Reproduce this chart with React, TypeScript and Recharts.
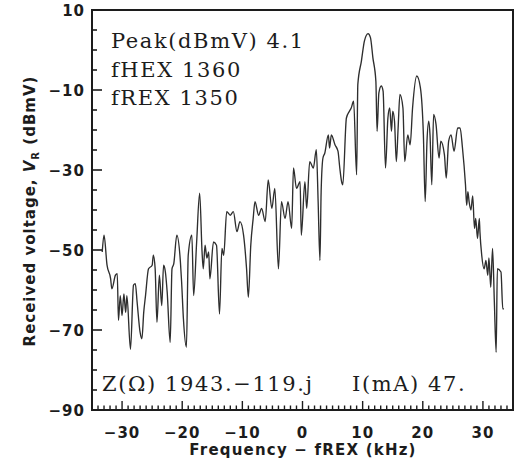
import React from "react";
import { LineChart, Line, XAxis, YAxis, ReferenceArea } from "recharts";

// frequency offset from fREX (kHz)
const freqKHz = [
  -33.3, -33.0, -32.5, -31.9, -31.7, -31.1, -30.8, -30.6, -30.3, -30.0,
  -29.7, -29.4, -29.2, -28.6, -28.1, -27.8, -27.5, -27.0, -26.7, -26.4,
  -26.1, -25.6, -25.0, -24.8, -24.5, -24.2, -23.8, -23.4, -23.1, -22.8,
  -22.5, -22.0, -21.7, -21.4, -20.9, -20.3, -20.1, -19.8, -19.3, -19.0,
  -18.4, -18.1, -17.6, -17.1, -16.7, -16.5, -16.2, -15.9, -15.6, -15.4,
  -14.8, -14.3, -13.8, -13.4, -13.1, -12.6, -12.0, -11.5, -10.9, -10.4,
  -9.8, -9.3, -9.0, -8.6, -8.2, -7.9, -7.3, -6.8, -6.2, -5.7,
  -5.1, -4.6, -4.0, -3.5, -2.9, -2.4, -1.8, -1.5, -1.0, -0.4,
  -0.2, 0.4, 0.7, 1.2, 1.8, 2.3, 2.6, 2.9, 3.1, 3.4,
  3.7, 4.3, 4.5, 4.8, 5.4, 5.9, 6.2, 6.5, 6.7, 7.3,
  7.8, 8.1, 8.5, 9.0, 9.2, 9.8, 10.3, 10.9, 11.3, 11.7,
  12.2, 12.4, 12.7, 13.1, 13.4, 13.8, 14.2, 14.5, 14.8, 15.0,
  15.3, 15.6, 15.9, 16.2, 16.7, 17.0, 17.5, 17.9, 18.3, 19.0,
  19.6, 20.1, 20.4, 20.7, 21.0, 21.2, 21.5, 21.8, 22.2, 22.7,
  23.0, 23.6, 23.9, 24.3, 24.7, 25.2, 25.8, 26.2, 26.6, 27.1,
  27.3, 27.5, 27.7, 28.0, 28.3, 28.6, 28.8, 29.1, 29.4, 29.5,
  29.8, 30.2, 30.5, 30.8, 31.0, 31.3, 31.6, 31.9, 32.2, 32.4,
  33.0, 33.3, 33.5,
];

// received voltage V_R (dBmV)
const levelDbmV = [
  -50.5, -46.3, -53.8, -57.2, -59.7, -56.3, -55.9, -67.6, -61.4, -66.4,
  -61.0, -65.6, -61.4, -74.8, -58.8, -58.4, -63.0, -70.6, -72.2, -65.6,
  -61.4, -54.7, -53.8, -51.3, -54.7, -68.1, -56.3, -63.9, -53.8, -55.5,
  -60.5, -73.1, -54.7, -53.4, -46.3, -53.0, -58.0, -67.2, -74.3, -51.3,
  -46.3, -61.4, -48.0, -35.8, -50.5, -54.7, -48.8, -52.0, -50.5, -57.2,
  -48.0, -48.8, -66.0, -49.6, -51.3, -40.4, -41.3, -40.4, -45.4, -42.9,
  -46.3, -54.7, -61.8, -48.8, -42.1, -37.9, -41.3, -39.6, -42.9, -32.5,
  -39.6, -34.6, -54.7, -37.9, -42.1, -37.9, -44.6, -29.5, -34.6, -32.9,
  -46.3, -32.9, -39.6, -27.9, -29.5, -24.9, -37.9, -52.6, -35.4, -27.0,
  -25.8, -21.2, -24.5, -21.2, -23.7, -25.3, -29.5, -32.9, -33.7, -17.0,
  -15.3, -14.5, -12.8, -31.2, -8.6, -2.7, 2.3, 4.1, 3.1, -1.9,
  -7.8, -20.3, -10.7, -9.0, -10.3, -29.5, -17.0, -14.5, -20.3, -15.3,
  -17.8, -27.9, -19.5, -11.1, -14.5, -27.9, -21.2, -23.7, -14.5, -6.5,
  -9.4, -21.2, -37.9, -22.8, -17.8, -21.2, -33.7, -16.1, -18.6, -27.0,
  -22.8, -26.2, -32.0, -22.8, -21.2, -25.3, -19.5, -19.5, -24.5, -33.7,
  -38.8, -35.4, -37.9, -40.0, -36.5, -44.6, -42.1, -47.1, -42.1, -45.4,
  -51.3, -54.7, -52.6, -56.3, -52.0, -59.3, -49.6, -63.0, -75.6, -54.7,
  -55.5, -64.7, -64.7,
];

const freqMajorTicks = [-30, -20, -10, 0, 10, 20, 30];
const levelMajorTicks = [10, -10, -30, -50, -70, -90];
const freqTicks = Array.from({ length: 71 }, (_, i) => i - 35);
const levelTicks = Array.from({ length: 21 }, (_, i) => 10 - i * 5);

const data = freqKHz.map((f, i) => ({ f, v: levelDbmV[i] }));

const INK = "#1c1c1c";
const TICK_FONT = "'DejaVu Sans', sans-serif";
const NOTE_FONT = "'DejaVu Serif', serif";

const fmt = (n: number) => (n < 0 ? `\u2212${-n}` : `${n}`);

function BottomTick({ x, y, payload }: any) {
  const major = freqMajorTicks.includes(payload.value);
  return (
    <g>
      <line x1={x} x2={x} y1={y} y2={y - (major ? 9 : 4.5)} stroke={INK} strokeWidth={1.4} />
      {major && (
        <text x={x} y={y + 28} textAnchor="middle" fill={INK} fontFamily={TICK_FONT}
          fontWeight="bold" fontSize={15} letterSpacing={1}>
          {fmt(payload.value)}
        </text>
      )}
    </g>
  );
}

function TopTick({ x, y, payload }: any) {
  const major = freqMajorTicks.includes(payload.value);
  return <line x1={x} x2={x} y1={y} y2={y + (major ? 9 : 4.5)} stroke={INK} strokeWidth={1.4} />;
}

function LeftTick({ x, y, payload }: any) {
  const major = levelMajorTicks.includes(payload.value);
  return (
    <g>
      <line x1={x} x2={x + (major ? 10 : 5)} y1={y} y2={y} stroke={INK} strokeWidth={1.6} />
      {major && (
        <text x={x - 7} y={y + 5.5} textAnchor="end" fill={INK} fontFamily={TICK_FONT}
          fontWeight="bold" fontSize={15} letterSpacing={1}>
          {fmt(payload.value)}
        </text>
      )}
    </g>
  );
}

function RightTick({ x, y, payload }: any) {
  const major = levelMajorTicks.includes(payload.value);
  return <line x1={x} x2={x - (major ? 10 : 5)} y1={y} y2={y} stroke={INK} strokeWidth={1.6} />;
}

export default function App() {
  return (
    <div style={{ position: "absolute", left: 0, top: 0, width: 517, height: 463, background: "#fff" }}>
      <LineChart width={517} height={463} data={data}
        margin={{ top: 10, right: 4, left: 0, bottom: 0 }}>
        <XAxis dataKey="f" type="number" domain={[-35, 35]} allowDataOverflow
          ticks={freqTicks} interval={0} tick={<BottomTick />} tickLine={false}
          tickSize={0} tickMargin={0} axisLine={false} height={53} />
        <XAxis xAxisId="top" orientation="top" type="number" domain={[-35, 35]}
          allowDataOverflow ticks={freqTicks} interval={0} tick={<TopTick />}
          tickLine={false} tickSize={0} tickMargin={0} axisLine={false} height={0} />
        <YAxis type="number" domain={[-90, 10]} allowDataOverflow ticks={levelTicks}
          interval={0} tick={<LeftTick />} tickLine={false} tickSize={0} tickMargin={0}
          axisLine={false} width={92} />
        <YAxis yAxisId="right" orientation="right" type="number" domain={[-90, 10]}
          allowDataOverflow ticks={levelTicks} interval={0} tick={<RightTick />}
          tickLine={false} tickSize={0} tickMargin={0} axisLine={false} width={0} />
        <ReferenceArea x1={-35} x2={35} y1={-90} y2={10} fill="none" fillOpacity={0}
          stroke={INK} strokeWidth={2} ifOverflow="visible" />
        <Line type="monotone" dataKey="v" stroke="#2e2e2e" strokeWidth={1.35}
          dot={false} isAnimationActive={false} />
      </LineChart>
      <svg width={517} height={463}
        style={{ position: "absolute", left: 0, top: 0, pointerEvents: "none" }}>
        <g fill={INK} fontFamily={NOTE_FONT} fontSize={21} letterSpacing={1.6}>
          <text x={111} y={48}>Peak(dBmV) 4.1</text>
          <text x={111} y={77}>fHEX 1360</text>
          <text x={111} y={105}>fREX 1350</text>
          <text x={102} y={391}>Z(Ω) 1943.−119.j</text>
          <text x={352} y={391}>I(mA) 47.</text>
        </g>
        <text x={303} y={455} textAnchor="middle" fill={INK} fontFamily={TICK_FONT}
          fontWeight="bold" fontSize={15} letterSpacing={1.2}>
          Frequency − fREX (kHz)
        </text>
        <text transform="translate(35, 211) rotate(-90)" textAnchor="middle" fill={INK}
          fontFamily={TICK_FONT} fontWeight="bold" fontSize={15} letterSpacing={1}>
          Received voltage,{" "}
          <tspan fontStyle="italic">V</tspan>
          <tspan fontSize={10} dy={4}>R</tspan>
          <tspan dy={-4}> (dBmV)</tspan>
        </text>
      </svg>
    </div>
  );
}
